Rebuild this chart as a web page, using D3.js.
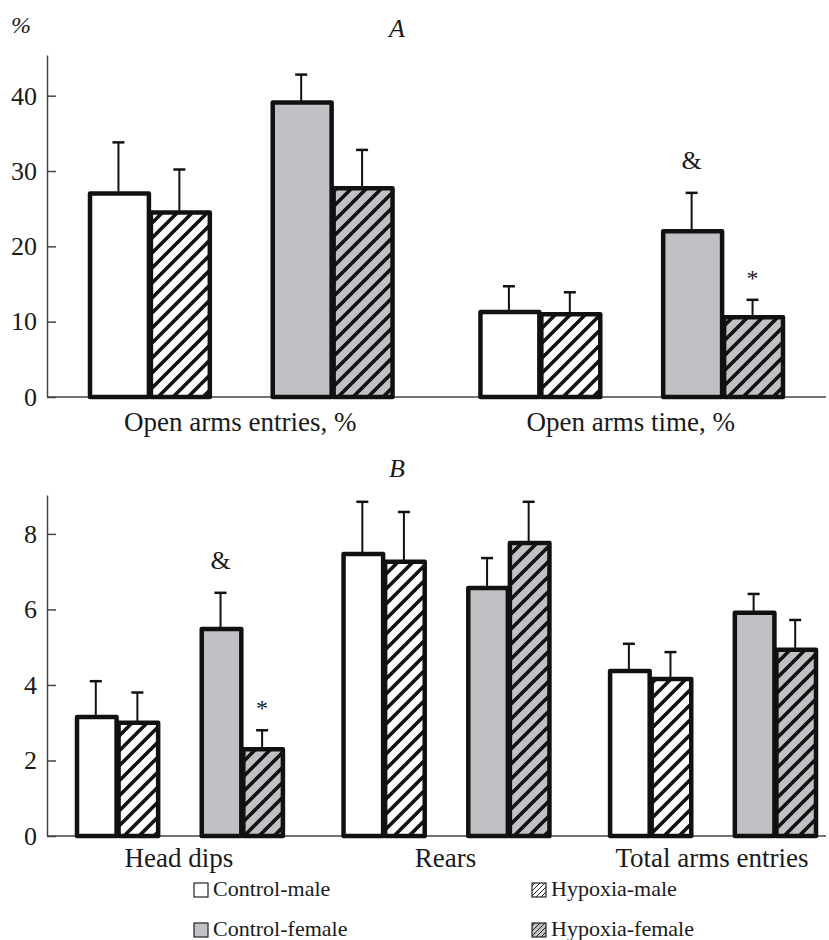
<!DOCTYPE html>
<html>
<head>
<meta charset="utf-8">
<script src="https://cdn.jsdelivr.net/npm/d3@7"></script>
<style>
  body { margin: 0; background: #fff; }
</style>
</head>
<body>
<svg id="chart"></svg>
<script>
// series (groups of animals)
const seriesNames = ["Control-male", "Hypoxia-male", "Control-female", "Hypoxia-female"];

// panel A - percentages
const categoriesA = ["Open arms entries, %", "Open arms time, %"];
const aControlMale = [27.0, 11.3];
const aControlMaleErr = [6.8, 3.4];
const aHypoxiaMale = [24.5, 11.0];
const aHypoxiaMaleErr = [5.7, 2.9];
const aControlFemale = [39.1, 22.0];
const aControlFemaleErr = [3.7, 5.1];
const aHypoxiaFemale = [27.7, 10.6];
const aHypoxiaFemaleErr = [5.1, 2.3];
const ticksA = [0, 10, 20, 30, 40];

// panel B - counts
const categoriesB = ["Head dips", "Rears", "Total arms entries"];
const bControlMale = [3.15, 7.47, 4.37];
const bControlMaleErr = [0.95, 1.38, 0.72];
const bHypoxiaMale = [3.0, 7.26, 4.16];
const bHypoxiaMaleErr = [0.8, 1.32, 0.71];
const bControlFemale = [5.48, 6.57, 5.91];
const bControlFemaleErr = [0.96, 0.79, 0.5];
const bHypoxiaFemale = [2.3, 7.76, 4.93];
const bHypoxiaFemaleErr = [0.5, 1.09, 0.79];
const ticksB = [0, 2, 4, 6, 8];

// significance marks: [category, series, symbol]
const marksA = [["Open arms time, %", "Control-female", "&"], ["Open arms time, %", "Hypoxia-female", "*"]];
const marksB = [["Head dips", "Control-female", "&"], ["Head dips", "Hypoxia-female", "*"]];

const serif = "'Liberation Serif', 'DejaVu Serif', serif";
const ink = "#1a1a1a";

const svg = d3.select("#chart").attr("width", 829).attr("height", 940);

// hatch patterns
const defs = svg.append("defs");
function hatch(id, bg) {
    let p = defs.append("pattern")
        .attr("id", id)
        .attr("patternUnits", "userSpaceOnUse")
        .attr("width", 15).attr("height", 15);
    p.append("rect").attr("width", 15).attr("height", 15).attr("fill", bg);
    p.append("path")
        .attr("d", "M-4,19 L19,-4 M-4,4 L4,-4 M11,19 L19,11")
        .attr("stroke", "#111").attr("stroke-width", 3.6);
}
hatch("hatchWhite", "#fff");
hatch("hatchGray", "#c0c1c5");

const fills = {
    "Control-male": "#fff",
    "Hypoxia-male": "url(#hatchWhite)",
    "Control-female": "#c0c1c5",
    "Hypoxia-female": "url(#hatchGray)"
};

function label(sel, size, italic) {
    return sel.style("font-family", serif)
        .style("font-size", size + "px")
        .style("font-style", italic ? "italic" : "normal")
        .style("fill", ink);
}

function panel(cfg) {
    let g = svg.append("g");

    let y = d3.scaleLinear().domain([0, cfg.yMax]).range([cfg.bottom, cfg.top]);
    let x = d3.scaleBand().domain(cfg.categories).range(cfg.xRange).paddingInner(0.22);
    let slot = d3.scaleBand()
        .domain(["Control-male", "Hypoxia-male", "gap", "Control-female", "Hypoxia-female"])
        .range([0, x.bandwidth()]);

    let rows = [];
    cfg.categories.forEach(function (c, i) {
        seriesNames.forEach(function (s, j) {
            rows.push({cat: c, series: s, value: cfg.values[j][i], err: cfg.errs[j][i]});
        });
    });

    // y axis
    g.append("g")
        .attr("transform", "translate(47,0)")
        .call(d3.axisLeft(y).tickValues(cfg.ticks).tickSizeInner(-9).tickSizeOuter(0).tickPadding(10))
        .call(function (a) {
            a.select(".domain").attr("stroke", "#444").attr("stroke-width", 1.5);
            a.selectAll(".tick line").attr("stroke", "#444").attr("stroke-width", 1.5);
            label(a.selectAll(".tick text"), 26, false);
        });

    // baseline
    g.append("line")
        .attr("x1", 47).attr("x2", 826)
        .attr("y1", y(0)).attr("y2", y(0))
        .attr("stroke", "#444").attr("stroke-width", 1.5);

    // error bars
    let eb = g.selectAll(".err").data(rows).enter().append("g");
    eb.append("line")
        .attr("x1", d => x(d.cat) + slot(d.series) + slot.bandwidth() / 2)
        .attr("x2", d => x(d.cat) + slot(d.series) + slot.bandwidth() / 2)
        .attr("y1", d => y(d.value))
        .attr("y2", d => y(d.value + d.err))
        .attr("stroke", "#111").attr("stroke-width", 2);
    eb.append("line")
        .attr("x1", d => x(d.cat) + slot(d.series) + slot.bandwidth() / 2 - 6)
        .attr("x2", d => x(d.cat) + slot(d.series) + slot.bandwidth() / 2 + 6)
        .attr("y1", d => y(d.value + d.err))
        .attr("y2", d => y(d.value + d.err))
        .attr("stroke", "#111").attr("stroke-width", 2.5);

    // bars
    g.selectAll(".bar").data(rows).enter().append("rect")
        .attr("x", d => x(d.cat) + slot(d.series) + 2)
        .attr("y", d => y(d.value))
        .attr("width", slot.bandwidth() - 2)
        .attr("height", d => y(0) - y(d.value))
        .attr("fill", d => fills[d.series])
        .attr("stroke", "#111")
        .attr("stroke-width", 4.5)
        .attr("stroke-linejoin", "round");

    // significance marks
    cfg.marks.forEach(function (m) {
        let r = rows.find(d => d.cat === m[0] && d.series === m[1]);
        g.append("text")
            .attr("x", x(r.cat) + slot(r.series) + slot.bandwidth() / 2)
            .attr("y", y(r.value + r.err) - (m[2] === "&" ? 24 : 14))
            .attr("text-anchor", "middle")
            .call(label, m[2] === "&" ? 26 : 24, false)
            .text(m[2]);
    });

    // category labels
    g.selectAll(".cat").data(cfg.categories).enter().append("text")
        .attr("x", d => x(d) + x.bandwidth() / 2)
        .attr("y", y(0) + cfg.labelGap)
        .attr("text-anchor", "middle")
        .call(label, 27, false)
        .text(d => d);

    // panel letter
    g.append("text")
        .attr("x", 397).attr("y", cfg.letterY)
        .attr("text-anchor", "middle")
        .call(label, 26, true)
        .text(cfg.letter);
}

panel({
    categories: categoriesA,
    values: [aControlMale, aHypoxiaMale, aControlFemale, aHypoxiaFemale],
    errs: [aControlMaleErr, aHypoxiaMaleErr, aControlFemaleErr, aHypoxiaFemaleErr],
    ticks: ticksA, yMax: 45.4, top: 55, bottom: 397,
    xRange: [88, 783], marks: marksA, letter: "A", letterY: 37, labelGap: 34
});

panel({
    categories: categoriesB,
    values: [bControlMale, bHypoxiaMale, bControlFemale, bHypoxiaFemale],
    errs: [bControlMaleErr, bHypoxiaMaleErr, bControlFemaleErr, bHypoxiaFemaleErr],
    ticks: ticksB, yMax: 9.03, top: 495, bottom: 836,
    xRange: [75, 816], marks: marksB, letter: "B", letterY: 477, labelGap: 31
});

// unit label
svg.append("text")
    .attr("x", 11).attr("y", 33)
    .call(label, 24, true)
    .text("%");

// legend
const legendPos = [[194, 896], [532, 896], [194, 936], [532, 936]];
const legendFills = {
    "Control-male": "#fff",
    "Hypoxia-male": "url(#hatchWhiteSmall)",
    "Control-female": "#c0c1c5",
    "Hypoxia-female": "url(#hatchGraySmall)"
};
function smallHatch(id, bg) {
    let p = defs.append("pattern")
        .attr("id", id)
        .attr("patternUnits", "userSpaceOnUse")
        .attr("width", 5).attr("height", 5);
    p.append("rect").attr("width", 5).attr("height", 5).attr("fill", bg);
    p.append("path").attr("d", "M-1,6 L6,-1").attr("stroke", "#222").attr("stroke-width", 1);
}
smallHatch("hatchWhiteSmall", "#fff");
smallHatch("hatchGraySmall", "#c0c1c5");

const legend = svg.selectAll(".legend").data(seriesNames).enter().append("g")
    .attr("transform", (d, i) => "translate(" + legendPos[i][0] + "," + legendPos[i][1] + ")");
legend.append("rect")
    .attr("x", 0).attr("y", -13).attr("width", 14).attr("height", 14)
    .attr("fill", d => legendFills[d])
    .attr("stroke", "#222").attr("stroke-width", 1.2);
legend.append("text")
    .attr("x", 19).attr("y", 0)
    .call(label, 22, false)
    .text(d => d);
</script>
</body>
</html>
